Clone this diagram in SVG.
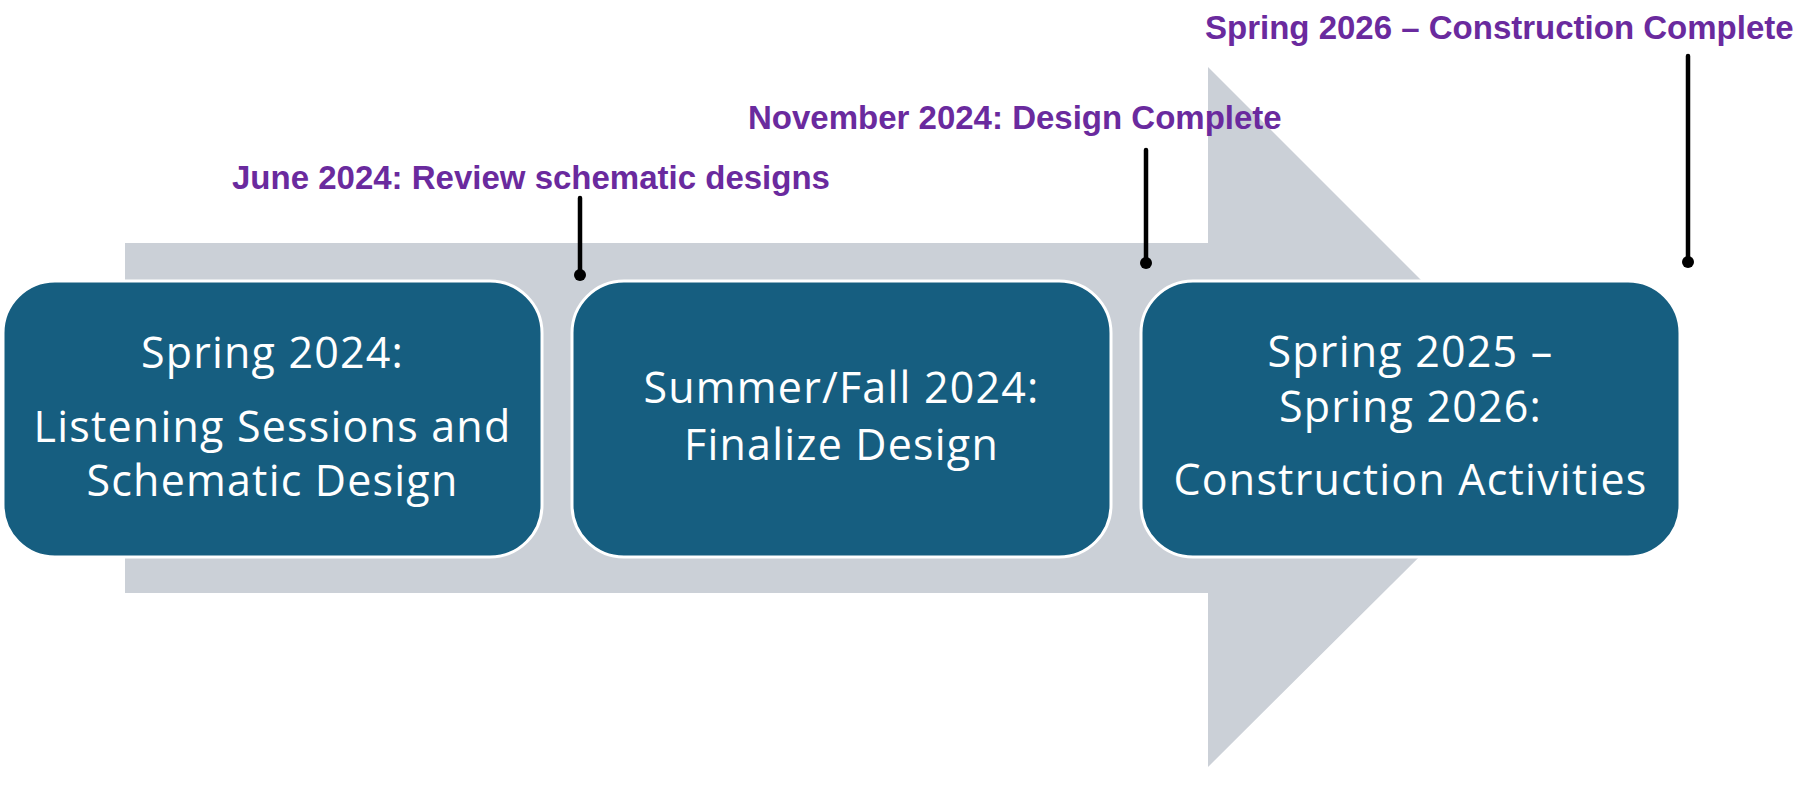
<svg xmlns="http://www.w3.org/2000/svg" width="1800" height="785" viewBox="0 0 1800 785">
<style>
.box{fill:#165E80;stroke:#FFFFFF;stroke-width:3}
.bt{font-family:"Open Sans","Liberation Sans",sans-serif;font-size:43px;letter-spacing:1.2px;fill:#FFFFFF;text-anchor:middle}
.lbl{font-family:"Liberation Sans",Arial,sans-serif;font-weight:bold;font-size:33px;fill:#6A2A9E}
.conn line{stroke:#000000;stroke-width:4.5;stroke-linecap:round}
.conn circle{fill:#000000}
</style>
<rect width="1800" height="785" fill="#FFFFFF"/>
<g id="arrow">
<polygon points="125,243 1208,243 1208,67 1559,418 1208,767 1208,593 125,593" fill="#CBD0D7"/>
</g>
<g id="node1">
<rect class="box" x="3" y="281" width="539" height="276" rx="52" ry="52"/>
<text class="bt" x="272.5" y="368">Spring 2024:</text>
<text class="bt" x="272.5" y="442">Listening Sessions and</text>
<text class="bt" x="272.5" y="496">Schematic Design</text>
</g>
<g id="node2">
<rect class="box" x="572" y="281" width="539" height="276" rx="52" ry="52"/>
<text class="bt" x="841.5" y="403">Summer/Fall 2024:</text>
<text class="bt" x="841.5" y="460">Finalize Design</text>
</g>
<g id="node3">
<rect class="box" x="1141" y="281" width="539" height="276" rx="52" ry="52"/>
<text class="bt" x="1410.5" y="367">Spring 2025 –</text>
<text class="bt" x="1410.5" y="422">Spring 2026:</text>
<text class="bt" x="1410.5" y="495">Construction Activities</text>
</g>
<g id="label1">
<text class="lbl" x="232" y="189">June 2024: Review schematic designs</text>
</g>
<g id="label2">
<text class="lbl" x="748" y="129">November 2024: Design Complete</text>
</g>
<g id="label3">
<text class="lbl" x="1205" y="39">Spring 2026 – Construction Complete</text>
</g>
<g id="connectors" class="conn">
<line x1="580" y1="198" x2="580" y2="275"/>
<circle cx="580" cy="275" r="6"/>
<line x1="1146" y1="150" x2="1146" y2="263"/>
<circle cx="1146" cy="263" r="6"/>
<line x1="1688" y1="56" x2="1688" y2="262"/>
<circle cx="1688" cy="262" r="6"/>
</g>
</svg>
